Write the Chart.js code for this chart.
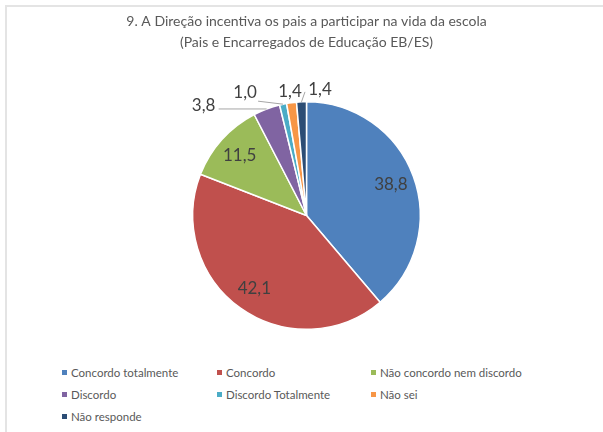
<!DOCTYPE html>
<html>
<head>
<meta charset="utf-8">
<script src="https://cdn.jsdelivr.net/npm/chart.js@4"></script>
<style>
  body { margin: 0; background: #fff; }
  #caixa { position: relative; width: 603px; height: 432px; overflow: hidden; font-family: Lato, sans-serif; }
  #moldura { position: absolute; left: 5px; top: 5px; width: 700px; height: 500px; border-top: 2px solid #e4e4e4; border-left: 2px solid #e4e4e4; }
  #grafico { position: absolute; left: 0; top: 0; }
  .item { position: absolute; font-size: 11.5px; color: #595959; white-space: nowrap; line-height: 14px; }
  .item span { display: inline-block; width: 5px; height: 5px; margin-right: 4px; vertical-align: 2px; }
</style>
</head>
<body>
<div id="caixa">
  <div id="moldura"></div>
  <canvas id="grafico" width="603" height="360"></canvas>
  <div id="legenda"></div>
</div>
<script>
// Dados do gráfico
const titulo = ["9. A Direção incentiva os pais a participar na vida da escola", "(Pais e Encarregados de Educação EB/ES)"];
const categorias = ["Concordo totalmente", "Concordo", "Não concordo nem discordo", "Discordo", "Discordo Totalmente", "Não sei", "Não responde"];
const valores = [38.8, 42.1, 11.5, 3.8, 1.0, 1.4, 1.4];
const cores = ["#4F81BD", "#C0504D", "#9BBB59", "#8064A2", "#4BACC6", "#F79646", "#2C4D75"];

// Rótulos das fatias pequenas ficam fora, com linha de ligação
const posicoesFora = [null, null, null,
    { texto: [-63, -3], linha: [-48, 0] },
    { texto: [-38, -12], linha: [-25, -3] },
    { texto: [-1.5, -11] },
    { texto: [18.5, -12], linha: [3.5, -10] }];

const rotulosPlugin = {
    id: "rotulos",
    afterDatasetsDraw(chart) {
        const ctx = chart.ctx;
        const meta = chart.getDatasetMeta(0);
        meta.data.forEach((arc, i) => {
            const p = arc.getProps(["x", "y", "startAngle", "endAngle", "outerRadius"], true);
            const meio = (p.startAngle + p.endAngle) / 2;
            const texto = valores[i].toFixed(1).replace(".", ",");
            ctx.save();
            ctx.font = "17px Lato";
            ctx.fillStyle = "#404040";
            ctx.textAlign = "center";
            ctx.textBaseline = "middle";
            const fora = posicoesFora[i];
            if (!fora) {
                const r = p.outerRadius * 0.79;
                ctx.fillText(texto, p.x + Math.cos(meio) * r, p.y + Math.sin(meio) * r);
            } else {
                const ax = p.x + Math.cos(meio) * p.outerRadius;
                const ay = p.y + Math.sin(meio) * p.outerRadius;
                if (fora.linha) {
                    ctx.strokeStyle = "#a6a6a6";
                    ctx.lineWidth = 1;
                    ctx.beginPath();
                    ctx.moveTo(ax, ay);
                    ctx.lineTo(ax + fora.linha[0], ay + fora.linha[1]);
                    ctx.stroke();
                }
                ctx.fillText(texto, ax + fora.texto[0], ay + fora.texto[1]);
            }
            ctx.restore();
        });
    }
};

const ctx = document.getElementById("grafico").getContext("2d");
new Chart(ctx, {
    type: "pie",
    data: {
        labels: categorias,
        datasets: [{
            data: valores,
            backgroundColor: cores,
            borderColor: "#ffffff",
            borderWidth: 1.5
        }]
    },
    options: {
        responsive: false,
        animation: false,
        devicePixelRatio: 1,
        layout: { padding: { left: 10, right: 0, top: 0, bottom: 30 } },
        plugins: {
            legend: { display: false },
            tooltip: { enabled: false },
            title: {
                display: true,
                text: titulo,
                color: "#595959",
                font: { family: "Lato", size: 14, weight: "normal", lineHeight: 1.5 },
                padding: { top: 11, bottom: 48 }
            }
        }
    },
    plugins: [rotulosPlugin]
});

// Legenda em três colunas
const colunasX = [62, 217, 371];
const linhasY = [366, 388, 410];
const legenda = document.getElementById("legenda");
categorias.forEach((nome, i) => {
    const div = document.createElement("div");
    div.className = "item";
    div.style.left = colunasX[i % 3] + "px";
    div.style.top = linhasY[Math.floor(i / 3)] + "px";
    div.innerHTML = '<span style="background:' + cores[i] + '"></span>' + nome;
    legenda.appendChild(div);
});
</script>
</body>
</html>
